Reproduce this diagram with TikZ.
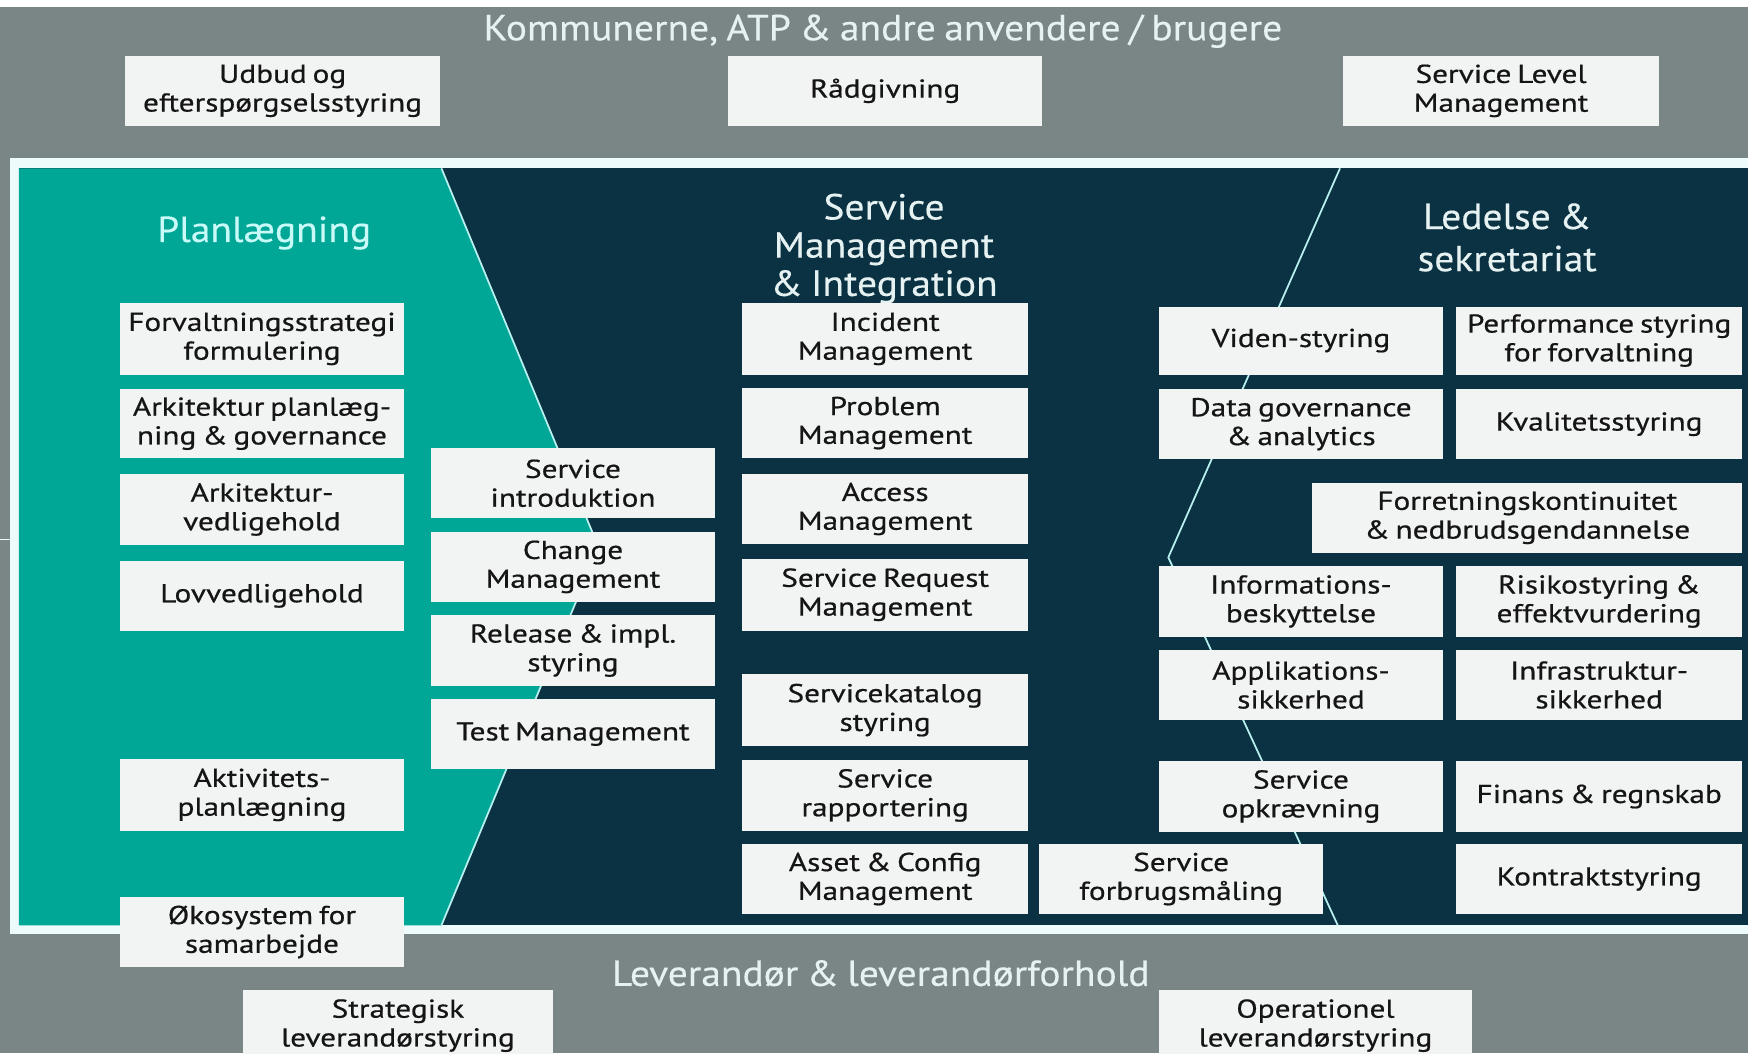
\documentclass[tikz,border=0pt]{standalone}
\usepackage{fontspec}
\setmainfont{PT Sans}
\newfontfamily\boxfam[FakeStretch=1.21,FakeBold=0.6,WordSpace=0.7]{PT Sans}
\newfontfamily\titlefam[FakeStretch=1.09,FakeBold=0.3,WordSpace=0.8]{PT Sans}
\definecolor{bggray}{HTML}{7A8685}
\definecolor{navy}{HTML}{0A3242}
\definecolor{tealc}{HTML}{00A696}
\definecolor{framec}{HTML}{EEFBFB}
\definecolor{boxfill}{HTML}{F2F3F3}
\definecolor{boxtext}{HTML}{151515}
\definecolor{linec}{HTML}{B8F0F0}
\definecolor{titlec}{HTML}{E6F2F2}
\definecolor{plantitle}{HTML}{C8FAF8}
\newcommand\boxfont{\boxfam\fontsize{13.2}{14.7}\selectfont}
\newcommand\titlefont{\titlefam\fontsize{18.5}{19.5}\selectfont}
\newcommand\mybox[6]{\node[box, minimum width={(#4-#2)*0.02cm}, minimum height={(#5-#3)*0.02cm}] (#1) at ({(#2+#4)/2},{(#3+#5)/2}) {#6};}
\begin{document}
\begin{tikzpicture}[x=0.02cm,y=-0.02cm,
  box/.style={fill=boxfill, draw=none, inner sep=0pt, outer sep=0pt, align=center, text=boxtext, font=\boxfont},
  bigtitle/.style={inner sep=0pt, align=center, font=\titlefont, text=titlec},
  divline/.style={draw=linec, line width=0.9pt, line join=miter}]
\useasboundingbox (0,0) rectangle (1568,945);
\clip (0,0) rectangle (1568,945);
% background
\fill[white] (0,0) rectangle (1568,945);
\fill[bggray] (0,6) rectangle (1568,945);
\draw[framec, line width=0.6pt] (0,484) -- (9,484);
% frame
\fill[framec] (9,142) rectangle (1580,838);
\fill[navy] (17,151) rectangle (1580,830);
% teal chevron
\fill[tealc] (17,151) -- (396,151) -- (537,491) -- (396,830) -- (17,830) -- cycle;
\draw[divline] (396,151) -- (537,491) -- (396,830);
% right divider
\draw[divline] (1202,151) -- (1048,500) -- (1200,830);
% titles
\node[bigtitle] (ttop) at (792,28) {Kommunerne, ATP \& andre anvendere / brugere};
\node[bigtitle, text=plantitle] (tplan) at (237,209) {Planlægning};
\node[bigtitle] (tsmi) at (793,223) {Service\\Management\\\& Integration};
\node[bigtitle, font=\titlefam\fontsize{18.5}{21.5}\selectfont] (tled) at (1352,213) {Ledelse \&\\sekretariat};
\node[bigtitle] (tlev) at (790,873) {Leverandør \& leverandørforhold};
% top row
\mybox{udbud}{112}{50}{395}{113}{Udbud og\\efterspørgselsstyring}
\mybox{raad}{653}{50}{935}{113}{Rådgivning}
\mybox{slm}{1205}{50}{1488}{113}{Service Level\\Management}
% planning column
\mybox{forv}{108}{272}{362}{336}{Forvaltningsstrategi\\formulering}
\mybox{arkplan}{108}{349}{362}{411}{Arkitektur planlæg-\\ning \& governance}
\mybox{arkved}{108}{425}{362}{489}{Arkitektur-\\vedligehold}
\mybox{lov}{108}{503}{362}{566}{Lovvedligehold}
\mybox{akt}{108}{681}{362}{745}{Aktivitets-\\planlægning}
\mybox{oko}{108}{805}{362}{867}{Økosystem for\\samarbejde}
% transition column
\mybox{sintro}{387}{402}{641}{465}{Service\\introduktion}
\mybox{change}{387}{477}{641}{540}{Change\\Management}
\mybox{release}{387}{552}{641}{615}{Release \& impl.\\styring}
\mybox{test}{387}{627}{641}{690}{Test Management}
% service management column
\mybox{incident}{666}{272}{922}{336}{Incident\\Management}
\mybox{problem}{666}{348}{922}{411}{Problem\\Management}
\mybox{access}{666}{425}{922}{488}{Access\\Management}
\mybox{sreq}{666}{501}{922}{566}{Service Request\\Management}
\mybox{skat}{666}{605}{922}{669}{Servicekatalog\\styring}
\mybox{srap}{666}{682}{922}{745}{Service\\rapportering}
\mybox{asset}{666}{757}{922}{820}{Asset \& Config\\Management}
\mybox{sforb}{932}{757}{1187}{820}{Service\\forbrugsmåling}
% ledelse columns
\mybox{viden}{1040}{275}{1294}{336}{Viden-styring}
\mybox{perf}{1306}{275}{1563}{336}{Performance styring\\for forvaltning}
\mybox{datag}{1040}{349}{1294}{412}{Data governance\\\& analytics}
\mybox{kval}{1306}{349}{1563}{412}{Kvalitetsstyring}
\mybox{forr}{1177}{433}{1563}{496}{Forretningskontinuitet\\\& nedbrudsgendannelse}
\mybox{info}{1040}{508}{1294}{571}{Informations-\\beskyttelse}
\mybox{risk}{1306}{508}{1563}{571}{Risikostyring \&\\effektvurdering}
\mybox{appl}{1040}{583}{1294}{646}{Applikations-\\sikkerhed}
\mybox{infra}{1306}{583}{1563}{646}{Infrastruktur-\\sikkerhed}
\mybox{sopk}{1040}{683}{1294}{746}{Service\\opkrævning}
\mybox{finans}{1306}{683}{1563}{746}{Finans \& regnskab}
\mybox{kontrakt}{1306}{757}{1563}{820}{Kontraktstyring}
% bottom row
\mybox{strat}{218}{888}{496}{952}{Strategisk\\leverandørstyring}
\mybox{oper}{1040}{888}{1320}{952}{Operationel\\leverandørstyring}
\end{tikzpicture}
\end{document}
